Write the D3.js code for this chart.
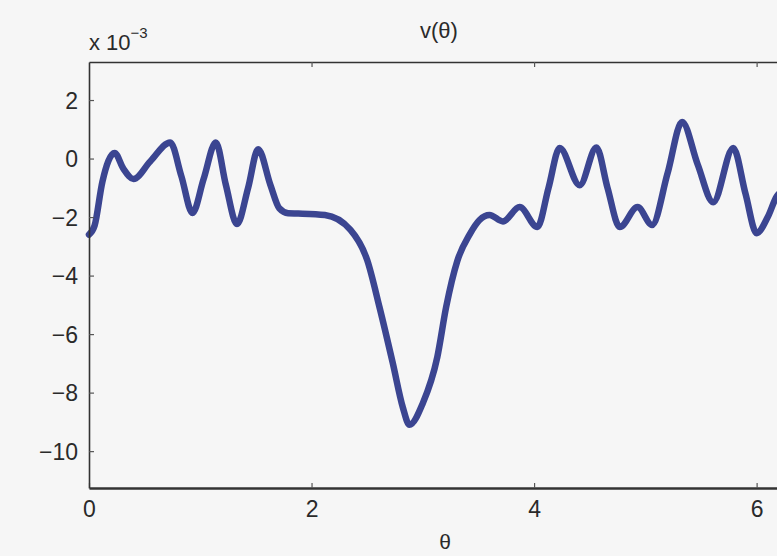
<!DOCTYPE html>
<html>
<head>
<meta charset="utf-8">
<script src="https://cdn.jsdelivr.net/npm/d3@7"></script>
<style>
  body { margin: 0; background: #f6f6f6; }
  text { font-family: "Liberation Sans", Arial, sans-serif; fill: #2a2a2a; }
</style>
</head>
<body>
<svg></svg>
<script>
// values (v in units of 1e-3)
var theta = [0.00, 0.05, 0.12, 0.23, 0.31, 0.40, 0.55, 0.73, 0.83, 0.93, 1.03, 1.14, 1.23, 1.33,
             1.43, 1.52, 1.63, 1.71, 1.79, 1.88, 2.12, 2.35, 2.50, 2.61, 2.73, 2.82, 2.88, 3.00, 3.13,
             3.21, 3.31, 3.42, 3.51, 3.60, 3.72, 3.87, 4.03, 4.13, 4.23, 4.41, 4.56, 4.66, 4.77,
             4.93, 5.06, 5.20, 5.33, 5.47, 5.61, 5.79, 5.90, 6.00, 6.10, 6.18, 6.28];
var vTheta = [-2.6, -2.3, -0.8, 0.19, -0.35, -0.70, -0.1, 0.55, -0.6, -1.86, -0.7, 0.55, -0.9, -2.24,
              -1.0, 0.32, -0.9, -1.7, -1.87, -1.88, -1.93, -2.44, -3.47, -5.07, -6.99, -8.5, -9.1, -8.36, -6.79,
              -5.07, -3.5, -2.6, -2.1, -1.93, -2.15, -1.66, -2.34, -1.0, 0.36, -0.91, 0.38, -1.0, -2.34,
              -1.66, -2.27, -0.5, 1.25, -0.2, -1.49, 0.36, -1.2, -2.55, -2.0, -1.3, -1.0];

var xTicks = [0, 2, 4, 6];
var yTicks = [2, 0, -2, -4, -6, -8, -10];

var width = 777, height = 556;
var margin = {left: 89, top: 62, bottom: 488};

var svg = d3.select("svg").attr("width", width).attr("height", height);

var x = d3.scaleLinear().domain([0, 6.3]).range([margin.left, 790]);
var y = d3.scaleLinear().domain([-11.26, 3.3]).range([margin.bottom, margin.top]);

var data = theta.map(function(t, i){ return {t: t, v: vTheta[i]}; });

// curve
var line = d3.line()
  .x(function(d){ return x(d.t); })
  .y(function(d){ return y(d.v); })
  .curve(d3.curveMonotoneX);

svg.append("path")
  .datum(data)
  .attr("d", line)
  .attr("fill", "none")
  .attr("stroke", "#3b4591")
  .attr("stroke-width", 6.5)
  .attr("stroke-linejoin", "round")
  .attr("stroke-linecap", "round");

// axes (matlab style, ticks inward)
var bottomAxis = d3.axisBottom(x).tickValues(xTicks).tickSizeInner(-5).tickSizeOuter(0).tickPadding(13)
  .tickFormat(d3.format("d"));
var leftAxis = d3.axisLeft(y).tickValues(yTicks).tickSizeInner(-5).tickSizeOuter(0).tickPadding(11)
  .tickFormat(function(d){ return d < 0 ? "\u2212" + Math.abs(d) : d; });
var topAxis = d3.axisTop(x).tickValues(xTicks.slice(1)).tickSizeInner(-5).tickSizeOuter(0).tickFormat("");

var gx = svg.append("g").attr("transform", "translate(0," + margin.bottom + ")").call(bottomAxis);
var gy = svg.append("g").attr("transform", "translate(" + margin.left + ",0)").call(leftAxis);
var gt = svg.append("g").attr("transform", "translate(0," + margin.top + ")").call(topAxis);

[gx, gy, gt].forEach(function(g){
  g.select(".domain").attr("stroke", "#333").attr("stroke-width", 1.6);
  g.selectAll(".tick line").attr("stroke", "#555").attr("stroke-width", 1.2);
  g.selectAll("text").style("font-size", "23px").attr("fill", "#2a2a2a");
});
gy.selectAll("text").attr("dy", "0.36em");
gx.selectAll("text").attr("dy", "0.71em");
gx.select(".domain").attr("stroke-width", 2.4);

// titles
svg.append("text").attr("x", 439).attr("y", 38).attr("text-anchor", "middle")
  .style("font-size", "22px").text("v(\u03b8)");
svg.append("text").attr("x", 445).attr("y", 549).attr("text-anchor", "middle")
  .style("font-size", "21px").text("\u03b8");

var exp = svg.append("text").attr("x", 89).attr("y", 50).style("font-size", "22px");
exp.append("tspan").text("x 10");
exp.append("tspan").attr("dy", -12).style("font-size", "15px").text("\u22123");
</script>
</body>
</html>
